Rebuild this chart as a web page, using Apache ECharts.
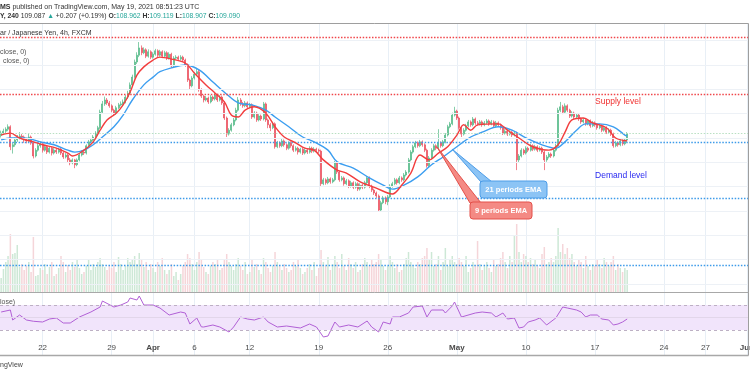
<!DOCTYPE html>
<html>
<head>
<meta charset="utf-8">
<script src="https://cdn.jsdelivr.net/npm/echarts/dist/echarts.min.js"></script>
<style>
  html, body { margin: 0; padding: 0; background: #fff; }
  #chart { width: 750px; height: 375px; }
</style>
</head>
<body>
<div id="chart"></div>
<script>
// USD/JPY 4h, 17 Mar - 19 May 2021, one row per trading day (6 bars)
var tickIdx = [18, 48, 66, 84, 108, 138, 168, 198, 228, 258, 288, 306, 324];
var tickText = ['22', '29', 'Apr', '6', '12', '19', '26', 'May', '10', '17', '24', '27', 'Jun'];
var monthTicks = ['Apr', 'May', 'Jun'];

var slots = [];
for (var s = 0; s < 325; s++) slots.push(String(s));

var firstOpen = 109.05;
var closes = [
  109.10,109.14,109.18,109.23,108.82,108.86,
  108.96,109.00,109.04,109.02,108.96,108.94,
  109.02,108.90,108.63,108.75,108.84,108.88,
  108.75,108.82,108.71,108.79,108.69,108.75,
  108.71,108.77,108.69,108.61,108.65,108.55,
  108.49,108.55,108.45,108.55,108.65,108.71,
  108.69,108.84,108.92,108.96,109.02,109.10,
  109.21,109.53,109.70,109.78,109.72,109.66,
  109.57,109.51,109.62,109.68,109.70,109.74,
  109.84,109.92,110.09,110.25,110.56,110.70,
  110.85,110.75,110.81,110.68,110.77,110.66,
  110.72,110.79,110.70,110.77,110.68,110.75,
  110.64,110.72,110.48,110.64,110.66,110.62,
  110.66,110.60,110.50,110.19,110.07,110.23,
  110.31,110.36,109.99,109.86,109.78,109.82,
  109.74,109.84,109.80,109.88,109.78,109.84,
  109.72,109.41,109.08,109.16,109.27,109.37,
  109.57,109.78,109.70,109.66,109.72,109.64,
  109.68,109.43,109.51,109.37,109.45,109.39,
  109.70,109.37,109.27,109.21,109.29,108.82,
  108.90,108.84,108.94,108.86,108.79,108.90,
  108.84,108.75,108.79,108.71,108.77,108.69,
  108.75,108.71,108.79,108.73,108.77,108.75,
  108.73,108.06,108.14,108.08,108.16,108.10,
  108.14,108.49,108.30,108.14,108.18,108.06,
  108.12,108.01,108.08,107.99,108.06,107.95,
  108.03,107.99,108.08,108.18,108.01,107.93,
  107.87,107.81,107.52,107.67,107.77,107.69,
  107.79,108.01,108.06,108.14,108.08,108.18,
  108.14,108.24,108.30,108.55,108.71,108.82,
  108.90,108.84,108.92,108.86,108.75,108.43,
  108.59,108.75,108.84,108.79,108.90,108.84,
  108.92,109.06,109.23,109.29,109.47,109.55,
  109.41,109.21,109.08,109.16,109.25,109.33,
  109.27,109.39,109.31,109.29,109.33,109.27,
  109.31,109.35,109.29,109.33,109.25,109.31,
  109.27,109.21,109.10,109.14,109.08,109.12,
  109.06,109.10,108.55,108.63,108.75,108.69,
  108.79,108.75,108.84,108.77,108.82,108.75,
  108.79,108.71,108.55,108.61,108.67,108.63,
  108.75,108.84,109.57,109.64,109.53,109.66,
  109.57,109.45,109.51,109.43,109.47,109.39,
  109.33,109.37,109.29,109.35,109.25,109.31,
  109.27,109.21,109.25,109.16,109.21,109.12,
  109.16,109.08,108.84,108.90,108.86,108.94,
  108.88,108.96,109.09
];
var highs = [
  109.15,109.19,109.22,109.28,109.26,108.91,
  109.01,109.06,109.12,109.08,109.05,109.00,
  109.09,109.05,108.93,108.79,108.88,108.93,
  108.91,108.86,108.85,108.83,108.82,108.79,
  108.79,108.80,108.81,108.72,108.69,108.68,
  108.59,108.58,108.57,108.58,108.68,108.75,
  108.74,108.87,108.96,109.00,109.06,109.14,
  109.25,109.58,109.76,109.85,109.82,109.76,
  109.69,109.60,109.66,109.72,109.75,109.79,
  109.88,109.97,110.14,110.30,110.61,110.76,
  110.97,110.90,110.86,110.84,110.82,110.80,
  110.76,110.83,110.82,110.81,110.80,110.79,
  110.78,110.76,110.75,110.68,110.70,110.69,
  110.70,110.69,110.63,110.53,110.22,110.27,
  110.35,110.44,110.40,110.02,109.89,109.86,
  109.85,109.88,109.87,109.92,109.91,109.88,
  109.87,109.75,109.44,109.20,109.31,109.41,
  109.62,109.84,109.82,109.74,109.76,109.75,
  109.72,109.71,109.55,109.54,109.49,109.48,
  109.74,109.73,109.40,109.31,109.33,109.32,
  108.94,108.93,108.98,108.97,108.89,108.93,
  108.93,108.87,108.83,108.82,108.80,108.80,
  108.79,108.78,108.83,108.82,108.81,108.80,
  108.78,108.76,108.18,108.17,108.20,108.19,
  108.18,108.53,108.52,108.33,108.22,108.21,
  108.16,108.15,108.12,108.11,108.10,108.09,
  108.07,108.06,108.12,108.22,108.21,108.04,
  107.96,107.90,107.84,107.71,107.81,107.80,
  107.83,108.05,108.10,108.18,108.17,108.22,
  108.21,108.28,108.34,108.59,108.75,108.86,
  108.94,108.93,108.96,108.95,108.89,108.78,
  108.63,108.79,108.88,108.87,109.18,108.93,
  108.96,109.10,109.27,109.33,109.52,109.64,
  109.58,109.44,109.24,109.20,109.29,109.37,
  109.36,109.43,109.42,109.35,109.37,109.36,
  109.35,109.39,109.38,109.37,109.36,109.35,
  109.34,109.30,109.24,109.18,109.17,109.16,
  109.15,109.14,109.13,108.67,108.79,108.78,
  108.83,108.82,108.88,108.87,108.86,108.85,
  108.83,108.82,108.74,108.65,108.71,108.70,
  108.79,108.88,109.62,109.74,109.68,109.71,
  109.69,109.60,109.55,109.54,109.51,109.50,
  109.42,109.41,109.40,109.39,109.38,109.35,
  109.34,109.30,109.29,109.28,109.25,109.24,
  109.20,109.19,109.11,108.94,108.93,108.98,
  108.97,109.00,109.12
];
var lows = [
  109.01,109.06,109.10,109.14,108.75,108.68,
  108.82,108.92,108.97,108.98,108.90,108.89,
  108.91,108.86,108.58,108.60,108.72,108.80,
  108.70,108.72,108.67,108.68,108.64,108.66,
  108.67,108.68,108.65,108.57,108.58,108.50,
  108.44,108.46,108.38,108.42,108.52,108.62,
  108.65,108.66,108.81,108.89,108.93,108.99,
  109.07,109.18,109.50,109.66,109.68,109.62,
  109.53,109.45,109.48,109.59,109.65,109.67,
  109.71,109.80,109.89,110.05,110.22,110.52,
  110.66,110.70,110.72,110.64,110.65,110.62,
  110.63,110.69,110.66,110.67,110.64,110.65,
  110.60,110.61,110.44,110.45,110.61,110.58,
  110.59,110.56,110.46,110.15,109.99,110.04,
  110.20,110.28,109.95,109.82,109.73,109.75,
  109.70,109.71,109.76,109.77,109.74,109.75,
  109.68,109.37,109.02,109.05,109.13,109.24,
  109.34,109.54,109.66,109.62,109.63,109.60,
  109.61,109.39,109.40,109.33,109.34,109.35,
  109.36,109.33,109.20,109.14,109.18,108.78,
  108.79,108.80,108.81,108.82,108.75,108.76,
  108.80,108.71,108.72,108.66,108.68,108.65,
  108.66,108.67,108.68,108.69,108.70,108.71,
  108.69,108.01,108.03,108.04,108.05,108.06,
  108.07,108.11,108.26,108.10,108.11,108.02,
  108.03,107.97,107.98,107.95,107.96,107.91,
  107.92,107.95,107.96,108.05,107.97,107.89,
  107.83,107.77,107.48,107.49,107.64,107.64,
  107.62,107.76,107.98,108.03,108.04,108.05,
  108.10,108.11,108.21,108.27,108.52,108.68,
  108.79,108.80,108.81,108.82,108.71,108.39,
  108.40,108.56,108.72,108.75,108.76,108.80,
  108.81,108.89,109.03,109.20,109.26,109.44,
  109.37,109.17,109.02,109.05,109.13,109.22,
  109.23,109.24,109.27,109.25,109.26,109.23,
  109.24,109.28,109.25,109.26,109.21,109.22,
  109.23,109.17,109.06,109.07,109.04,109.05,
  109.02,109.03,108.34,108.50,108.60,108.65,
  108.66,108.71,108.72,108.73,108.74,108.71,
  108.72,108.67,108.34,108.51,108.58,108.59,
  108.60,108.72,108.81,109.53,109.49,109.50,
  109.53,109.41,109.42,109.39,109.40,109.35,
  109.29,109.30,109.25,109.26,109.21,109.22,
  109.23,109.17,109.18,109.12,109.13,109.08,
  109.09,109.04,108.80,108.81,108.82,108.83,
  108.84,108.85,108.91
];
var volumes = [
  14,23,30,36,58,38, 39,47,25,28,22,26, 30,20,55,16,17,24,
  22,28,18,25,30,16, 18,24,36,30,20,27, 22,30,25,33,24,18,
  20,26,32,22,28,25, 30,34,28,25,22,27, 24,30,20,35,28,22,
  26,34,30,32,36,28, 39,33,25,30,22,28, 24,20,30,26,34,22,
  18,22,28,16,20,12, 18,26,30,38,34,28, 22,30,40,32,25,20,
  18,26,30,28,33,22, 24,32,38,30,26,22, 28,34,26,22,30,18,
  20,33,25,28,22,18, 34,30,24,20,26,40, 30,26,22,28,24,20,
  22,30,26,33,24,18, 20,24,28,22,30,16, 24,42,30,26,35,22,
  28,36,30,24,38,26, 22,34,28,24,30,20, 22,28,34,30,26,32,
  28,30,38,32,26,22, 26,36,30,24,28,20, 22,28,34,40,30,26,
  24,30,28,34,36,44, 32,40,26,28,36,22, 30,44,26,32,36,30,
  28,34,30,26,36,20, 24,30,26,51,28,22, 26,30,24,20,32,26,
  28,34,40,30,24,36, 30,56,68,40,30,38, 36,30,34,28,32,26,
  24,38,45,28,30,34, 30,36,64,40,48,38, 44,34,38,30,26,32,
  30,24,36,26,22,28, 26,32,28,24,34,30, 26,30,36,22,28,24,
  20,24,22
];
// EMA lines: [bar index, price]
var ema9 = [
  [0,109.06],[4,109.10],[8,109.00],[14,108.92],[18,108.86],[24,108.79],[29,108.69],
  [31,108.63],[36,108.75],[40,108.92],[43,109.16],[46,109.37],[50,109.51],[53,109.68],
  [56,109.94],[59,110.29],[62,110.46],[66,110.60],[69,110.66],[74,110.62],[80,110.54],
  [84,110.33],[89,110.09],[93,109.92],[97,109.74],[100,109.47],[103,109.43],[106,109.57],
  [110,109.64],[115,109.51],[119,109.23],[123,109.02],[128,108.90],[132,108.79],
  [136,108.75],[140,108.55],[146,108.34],[150,108.28],[156,108.10],[163,107.97],
  [170,107.85],[174,108.03],[178,108.28],[182,108.65],[186,108.55],[190,108.69],
  [194,108.82],[198,109.06],[201,109.27],[204,109.16],[207,109.27],[216,109.29],
  [220,109.16],[225,109.00],[231,108.82],[238,108.75],[242,108.86],[245,109.12],
  [248,109.37],[253,109.41],[257,109.31],[263,109.21],[267,109.00],[272,108.94]
];
var ema21 = [
  [0,108.96],[4,109.00],[10,109.00],[17,108.92],[23,108.86],[29,108.75],[32,108.71],
  [36,108.75],[40,108.86],[44,109.02],[49,109.23],[53,109.47],[57,109.78],[62,110.09],
  [66,110.25],[69,110.36],[74,110.44],[80,110.50],[86,110.40],[92,110.15],[97,109.94],
  [103,109.72],[109,109.68],[115,109.57],[119,109.43],[125,109.23],[131,109.02],
  [136,108.92],[142,108.75],[146,108.51],[153,108.38],[160,108.18],[166,108.03],
  [170,107.95],[175,108.03],[181,108.20],[187,108.45],[192,108.61],[198,108.82],
  [204,109.02],[209,109.12],[216,109.23],[222,109.16],[228,109.00],[235,108.86],
  [241,108.79],[245,108.92],[250,109.16],[254,109.29],[260,109.29],[266,109.23],
  [271,109.06],[272,109.04]
];
// RSI(14): [bar index, value]
var rsi = [
  [0,58.8],[4,62],[5,46],[8,54],[11,46],[14,44],[18,42.8],[21,47.6],[24,49.2],[27,41.2],
  [30,41.2],[34,50.8],[39,58.8],[43,66.8],[44,76.4],[49,66.8],[52,70],[55,74.8],[56,81.2],
  [59,78],[60,84.4],[62,70],[66,70],[69,65.2],[73,54],[78,58.8],[80,57.2],[82,39.6],
  [85,49.2],[87,35],[88,34.8],[92,38],[95,34.8],[99,26.8],[101,34.8],[104,50.8],
  [107,47.6],[110,46],[114,50.8],[116,42.8],[120,34.8],[124,36.4],[130,33.2],[134,39.6],
  [137,34.8],[140,18.8],[142,20.4],[145,42.8],[147,34.8],[151,38],[155,34.8],[159,44.4],
  [161,34.8],[164,26.8],[166,42.8],[169,39.6],[170,50.8],[173,50.8],[177,57.2],[179,66.8],
  [183,68.4],[185,50.8],[187,62],[192,62],[193,57.2],[196,68.4],[197,74.8],[200,50.8],
  [206,57.2],[209,58.8],[213,57.2],[215,50.8],[218,57.2],[220,47.6],[223,49.2],[225,33.2],
  [227,34.8],[229,42.8],[232,46],[234,49.2],[237,38],[241,49.2],[244,66.8],[246,65.2],
  [250,62],[252,58.8],[254,50.8],[256,54],[259,54],[261,47.6],[264,46],[266,38],
  [268,39.6],[270,42.8],[272,47.6]
];
var priceGridLevels = [106, 106.5, 107, 107.5, 108, 108.5, 109, 109.5, 110, 110.5, 111];
var supplyLevels = [111.06, 109.90];
var demandLevels = [108.92, 107.77, 106.38];
var lastPrice = 109.09;

var FONT = '"Liberation Sans", Arial, sans-serif';
var UP = '#53b987', DOWN = '#eb4d5c';

var candles = closes.map(function (c, i) {
  var o = i === 0 ? firstOpen : closes[i - 1];
  return [o, c, lows[i], highs[i]];
});
var volData = volumes.map(function (v, i) {
  var up = closes[i] >= candles[i][0];
  return { value: v, itemStyle: { color: up ? '#cde8d6' : '#f5d5d9' } };
});

function isTick(index) { return tickIdx.indexOf(index) >= 0; }

var levelLines = [];
priceGridLevels.forEach(function (p) {
  levelLines.push({ yAxis: p, lineStyle: { color: '#edf1f6', type: 'solid', width: 1 } });
});
supplyLevels.forEach(function (p) {
  levelLines.push({ yAxis: p, lineStyle: { color: '#f0464a', type: [1.5, 1.6], width: 1.3 } });
});
levelLines.push({ yAxis: lastPrice, lineStyle: { color: '#b9e0c2', type: [1.5, 1.6], width: 1.2 } });
demandLevels.forEach(function (p) {
  levelLines.push({ yAxis: p, lineStyle: { color: '#3d9be9', type: [1.5, 1.6], width: 1.3 } });
});

var vSplit = { show: true, interval: isTick, alignWithLabel: true, lineStyle: { color: '#e8eff6', width: 1 } };

var chart = echarts.init(document.getElementById('chart'));
var option = {
  animation: false,
  backgroundColor: '#ffffff',
  grid: [
    { left: 0, right: 2, top: 23, bottom: 83, outerBoundsMode: 'none' },
    { left: 0, right: 2, top: 222, bottom: 83, outerBoundsMode: 'none' },
    { left: 0, right: 2, top: 293, bottom: 20, outerBoundsMode: 'none' }
  ],
  xAxis: [
    { type: 'category', gridIndex: 0, data: slots, axisLine: { show: false }, axisTick: { show: false, alignWithLabel: true },
      axisLabel: { show: false }, splitLine: vSplit },
    { type: 'category', gridIndex: 1, data: slots, show: false },
    { type: 'category', gridIndex: 2, data: slots, axisLine: { show: false }, axisTick: { show: false, alignWithLabel: true },
      splitLine: vSplit,
      axisLabel: {
        inside: true, margin: 3, interval: isTick, color: '#4a4a4a', fontSize: 8, fontFamily: FONT,
        formatter: function (v) {
          var k = tickIdx.indexOf(Number(v));
          if (k < 0) return '';
          var t = tickText[k];
          return monthTicks.indexOf(t) >= 0 ? '{m|' + t + '}' : t;
        },
        rich: { m: { fontWeight: 'bold', fontSize: 8, color: '#4a4a4a', fontFamily: FONT } }
      } }
  ],
  yAxis: [
    { type: 'value', gridIndex: 0, min: 105.837, max: 111.361, show: false },
    { type: 'value', gridIndex: 1, min: 0, max: 70, show: false },
    { type: 'value', gridIndex: 2, min: -10, max: 89.2, show: false }
  ],
  series: [
    { type: 'line', xAxisIndex: 0, yAxisIndex: 0, data: [], z: 1, silent: true,
      markLine: { symbol: 'none', silent: true, label: { show: false }, data: levelLines } },
    { type: 'bar', xAxisIndex: 1, yAxisIndex: 1, data: volData, barWidth: 1.5, z: 1, silent: true },
    { type: 'candlestick', xAxisIndex: 0, yAxisIndex: 0, data: candles, barWidth: 1.5, z: 3,
      itemStyle: { color: UP, color0: DOWN, borderColor: UP, borderColor0: DOWN, borderWidth: 0.7 } },
    { type: 'line', xAxisIndex: 0, yAxisIndex: 0, data: ema21, showSymbol: false, smooth: 0.35, z: 4,
      lineStyle: { color: '#3c9ef0', width: 1.4 } },
    { type: 'line', xAxisIndex: 0, yAxisIndex: 0, data: ema9, showSymbol: false, smooth: 0.35, z: 5,
      lineStyle: { color: '#f23d3d', width: 1.4 } },
    { type: 'line', xAxisIndex: 2, yAxisIndex: 2, data: rsi, showSymbol: false, z: 4,
      lineStyle: { color: '#b160d6', width: 1 },
      markArea: { silent: true, itemStyle: { color: '#f1e4fb' }, data: [[{ yAxis: 30 }, { yAxis: 70 }]] },
      markLine: { symbol: 'none', silent: true, label: { show: false }, data: [
        { yAxis: 70, lineStyle: { color: '#bdb0c4', type: [3, 3], width: 1 } },
        { yAxis: 30, lineStyle: { color: '#bdb0c4', type: [3, 3], width: 1 } },
        { yAxis: 50, lineStyle: { color: '#e2d6ea', type: 'solid', width: 1 } }
      ] } }
  ],
  graphic: [
    { type: 'text', x: 0, y: 7, z: 20, style: { text: '{b|MS} published on TradingView.com, May 19, 2021 08:51:23 UTC',
      font: '7px ' + FONT, fill: '#333', verticalAlign: 'middle',
      rich: { b: { fontWeight: 'bold', fontSize: 7, fill: '#333', fontFamily: FONT } } } },
    { type: 'text', x: 0, y: 16, z: 20, style: {
      text: '{b|Y, 240} {n|109.087} {g|▲} {n|+0.207 (+0.19%)} {b|O:}{g|108.962} {b|H:}{g|109.119} {b|L:}{g|108.907} {b|C:}{g|109.090}',
      font: '6.8px ' + FONT, fill: '#333', verticalAlign: 'middle',
      rich: {
        b: { fontWeight: 'bold', fontSize: 6.8, fill: '#333', fontFamily: FONT },
        n: { fontSize: 6.8, fill: '#333', fontFamily: FONT },
        g: { fontSize: 6.8, fill: '#26a69a', fontFamily: FONT }
      } } },
    { type: 'text', x: 0, y: 33, z: 20, style: { text: 'ar / Japanese Yen, 4h, FXCM', font: '7px ' + FONT, fill: '#333', verticalAlign: 'middle' } },
    { type: 'text', x: 0, y: 52, z: 20, style: { text: 'close, 0)', font: '7px ' + FONT, fill: '#555', verticalAlign: 'middle' } },
    { type: 'text', x: 3, y: 61, z: 20, style: { text: 'close, 0)', font: '7px ' + FONT, fill: '#555', verticalAlign: 'middle' } },
    { type: 'text', x: 0, y: 302, z: 20, style: { text: 'lose)', font: '7px ' + FONT, fill: '#555', verticalAlign: 'middle' } },
    { type: 'text', x: 0, y: 365, z: 20, style: { text: 'ngView', font: '7px ' + FONT, fill: '#444', verticalAlign: 'middle' } },

    { type: 'text', x: 618, y: 102, z: 20, style: { text: 'Supply level', font: '8.5px ' + FONT, fill: '#f0302f', align: 'center', verticalAlign: 'middle' } },
    { type: 'text', x: 621, y: 176, z: 20, style: { text: 'Demand level', font: '8.5px ' + FONT, fill: '#2a2af0', align: 'center', verticalAlign: 'middle' } },

    { type: 'polygon', z: 21, shape: { points: [[452, 149], [481, 182], [492, 182]] }, style: { fill: '#8cc4f5', stroke: '#4d9de8', lineWidth: 1 } },
    { type: 'rect', z: 22, shape: { x: 480, y: 181, width: 67, height: 17, r: 3 }, style: { fill: '#8cc4f5', stroke: '#4d9de8', lineWidth: 1 } },
    { type: 'text', z: 23, x: 513.5, y: 189.5, style: { text: '21 periods EMA', font: 'bold 7.5px ' + FONT, fill: '#fff', align: 'center', verticalAlign: 'middle' } },
    { type: 'polygon', z: 21, shape: { points: [[437, 147], [470, 203], [481, 203]] }, style: { fill: '#f48a84', stroke: '#e4504a', lineWidth: 1 } },
    { type: 'rect', z: 22, shape: { x: 470, y: 202, width: 62, height: 17, r: 3 }, style: { fill: '#f48a84', stroke: '#e4504a', lineWidth: 1 } },
    { type: 'text', z: 23, x: 501, y: 210.5, style: { text: '9 periods EMA', font: 'bold 7.5px ' + FONT, fill: '#fff', align: 'center', verticalAlign: 'middle' } },

    { type: 'line', z: 19, shape: { x1: 0, y1: 23.5, x2: 748.5, y2: 23.5 }, style: { stroke: '#9e9e9e', lineWidth: 1 } },
    { type: 'line', z: 19, shape: { x1: 748.5, y1: 23.5, x2: 748.5, y2: 355.5 }, style: { stroke: '#9e9e9e', lineWidth: 1 } },
    { type: 'line', z: 19, shape: { x1: 0, y1: 292.5, x2: 748.5, y2: 292.5 }, style: { stroke: '#a8a8a8', lineWidth: 1 } },
    { type: 'line', z: 19, shape: { x1: 0, y1: 355.5, x2: 748.5, y2: 355.5 }, style: { stroke: '#a8a8a8', lineWidth: 1.5 } }
  ]
};
chart.setOption(option);
</script>
</body>
</html>
